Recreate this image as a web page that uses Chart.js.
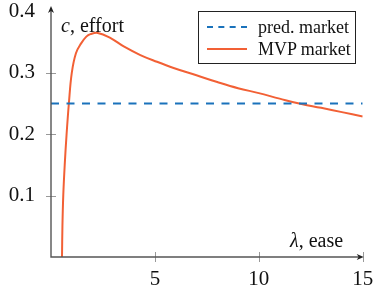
<html><head>
<meta charset="UTF-8">
<title>Effort vs ease</title>
<script src="https://cdn.jsdelivr.net/npm/chart.js"></script>
<style>
* { margin: 0; padding: 0; box-sizing: border-box; }
body { width: 375px; height: 294px; background: #fff; font-family: 'Liberation Serif', serif; color: #111; overflow: hidden; }
.wrap { position: relative; width: 375px; height: 294px; }
.lbl { position: absolute; font-size: 20px; white-space: nowrap; line-height: 1; }
.legend {
  position: absolute; left: 198px; top: 11px; width: 158px; height: 53px;
  border: 1px solid #222; background: #fff; font-size: 18px;
}
.legend .row { position: absolute; left: 0; height: 20px; line-height: 20px; }
.legend .swatch { position: absolute; left: 8px; top: 9px; width: 40px; height: 0; }
.legend .txt { position: absolute; left: 59px; top: 0; white-space: nowrap; }
</style>
</head>
<body>
<div class="wrap">
  <canvas id="chart" width="375" height="294"></canvas>
  <div class="lbl" style="left:61px; top:15px;"><i>c</i>, effort</div>
  <div class="lbl" style="left:290px; top:230px;"><i>λ</i>, ease</div>
  <div class="legend">
    <div class="row" style="top:5px;"><div class="swatch" style="border-top:2px dashed #1a72bb;"></div><span class="txt">pred. market</span></div>
    <div class="row" style="top:27px;"><div class="swatch" style="border-top:2px solid #f26035;"></div><span class="txt">MVP market</span></div>
  </div>
</div>

<script>
// values
const predLambda = [0, 15];
const predEffort = [0.25, 0.25];

const mvpLambda = [0.53, 0.55, 0.59, 0.66, 0.75, 0.86, 1.0, 1.2, 1.45, 1.7, 1.9, 2.25, 2.85, 3.5, 4.3, 5.1, 5.9, 7, 8, 9, 10, 11, 12, 13, 14, 15];
const mvpEffort = [0, 0.05, 0.10, 0.15, 0.20, 0.25, 0.30, 0.332, 0.348, 0.359, 0.363, 0.365, 0.357, 0.343, 0.329, 0.318, 0.308, 0.296, 0.285, 0.275, 0.267, 0.258, 0.2495, 0.243, 0.236, 0.229];

const xTicks = [5, 10, 15];
const yTicks = [0.1, 0.2, 0.3, 0.4];

const toPoints = (xs, ys) => xs.map((x, i) => ({ x: x, y: ys[i] }));

// axis lines with arrow heads and small cross ticks
const axesPlugin = {
  id: 'axes',
  afterDatasetsDraw(chart) {
    const ctx = chart.ctx;
    const xs = chart.scales.x, ys = chart.scales.y;
    const x0 = xs.getPixelForValue(0), y0 = ys.getPixelForValue(0);
    const xEnd = xs.getPixelForValue(15), yEnd = chart.chartArea.top - 2;
    ctx.save();
    ctx.strokeStyle = '#999';
    ctx.lineWidth = 1;
    xTicks.forEach(v => {
      const p = Math.round(xs.getPixelForValue(v)) + 0.5;
      ctx.beginPath(); ctx.moveTo(p, y0 - 5); ctx.lineTo(p, y0 + 5); ctx.stroke();
    });
    yTicks.slice(0, 3).forEach(v => {
      const p = Math.round(ys.getPixelForValue(v)) + 0.5;
      ctx.beginPath(); ctx.moveTo(x0 - 5, p); ctx.lineTo(x0 + 5, p); ctx.stroke();
    });
    ctx.strokeStyle = '#555';
    ctx.fillStyle = '#222';
    ctx.lineWidth = 1.4;
    ctx.beginPath();
    ctx.moveTo(x0, yEnd + 2); ctx.lineTo(x0, y0); ctx.lineTo(xEnd - 2, y0);
    ctx.stroke();
    ctx.beginPath();
    ctx.moveTo(x0, yEnd - 1); ctx.lineTo(x0 - 3, yEnd + 6); ctx.lineTo(x0, yEnd + 4); ctx.lineTo(x0 + 3, yEnd + 6); ctx.closePath();
    ctx.fill();
    ctx.beginPath();
    ctx.moveTo(xEnd + 1, y0); ctx.lineTo(xEnd - 6, y0 - 3); ctx.lineTo(xEnd - 4, y0); ctx.lineTo(xEnd - 6, y0 + 3); ctx.closePath();
    ctx.fill();
    ctx.restore();
  }
};

new Chart(document.getElementById('chart'), {
  type: 'line',
  data: {
    datasets: [{
      label: 'pred. market',
      data: toPoints(predLambda, predEffort),
      borderColor: '#1a72bb',
      borderWidth: 2,
      borderDash: [8, 7.5],
      pointRadius: 0
    }, {
      label: 'MVP market',
      data: toPoints(mvpLambda, mvpEffort),
      borderColor: '#f26035',
      borderWidth: 2,
      tension: 0.4,
      pointRadius: 0
    }]
  },
  options: {
    responsive: false,
    animation: false,
    layout: { padding: 0 },
    plugins: { legend: { display: false }, tooltip: { enabled: false } },
    scales: {
      x: {
        type: 'linear', min: 0, max: 15,
        afterBuildTicks: s => { s.ticks = xTicks.map(v => ({ value: v })); },
        afterFit: s => { s.height = 37; s.paddingLeft = 0; s.paddingRight = 12.3; },
        grid: { display: false, drawTicks: false },
        border: { display: false },
        ticks: { color: '#111', padding: 12, font: { family: 'Liberation Serif', size: 21, lineHeight: 1 } }
      },
      y: {
        type: 'linear', min: 0, max: 0.404,
        afterBuildTicks: s => { s.ticks = yTicks.map(v => ({ value: v })); },
        afterFit: s => { s.width = 51; s.paddingTop = 9; s.paddingBottom = 0; },
        grid: { display: false, drawTicks: false },
        border: { display: false },
        ticks: { color: '#111', padding: 16, font: { family: 'Liberation Serif', size: 21, lineHeight: 0.85 }, callback: v => v.toFixed(1) }
      }
    }
  },
  plugins: [axesPlugin]
});
</script>
</body></html>
